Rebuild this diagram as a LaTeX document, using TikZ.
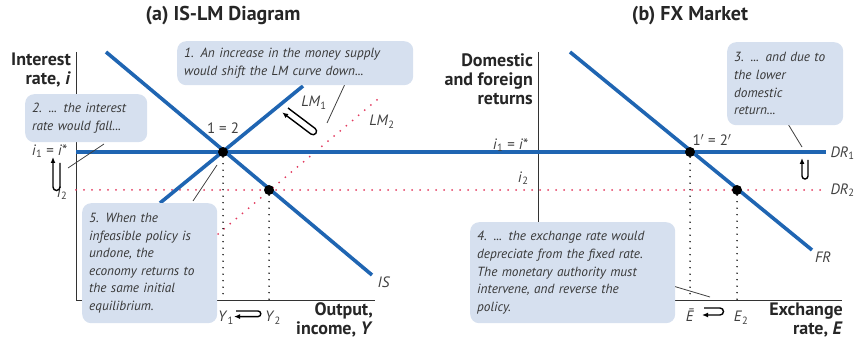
\documentclass[tikz,border=0pt]{standalone}
\usepackage{fontspec}
\setmainfont{PT Sans}
\usetikzlibrary{arrows.meta}
\definecolor{curveblue}{HTML}{1F65B2}
\definecolor{dotred}{HTML}{E23B5F}
\definecolor{notefill}{HTML}{D6E0EF}
\definecolor{notetext}{HTML}{383838}
\begin{document}
\begin{tikzpicture}[x=1pt,y=1pt,
    curve/.style={curveblue,line width=3.6pt},
    shifted/.style={dotred,line width=2pt,line cap=round,dash pattern=on 0pt off 8pt},
    guide/.style={black,line width=1.6pt,line cap=round,dash pattern=on 0pt off 6.5pt},
    axisline/.style={black!80,line width=0.9pt},
    eqpt/.style={circle,fill=black,inner sep=0pt,minimum size=10pt},
    note/.style={fill=notefill,rounded corners=9pt,inner xsep=7pt,inner ysep=4pt,align=left,
        text=notetext,font=\fontsize{13.3}{17.6}\selectfont\itshape,anchor=north west},
    pointer/.style={black!75,line width=0.8pt},
    hairpin/.style={black,line width=1.4pt,-{Latex[length=6pt,width=5pt]}},
    axlabel/.style={font=\fontsize{18}{19}\selectfont\bfseries,align=right,text=black!85,inner sep=1pt},
    tick/.style={font=\fontsize{15}{16}\selectfont,text=black!75},
    title/.style={font=\fontsize{20}{22}\selectfont\bfseries,text=black!85}]
  \useasboundingbox (0,0) rectangle (857,340);

  % titles
  \node[title] (ta) at (223,324) {(a) IS-LM Diagram};
  \node[title] (tb) at (690,324) {(b) FX Market};

  % draw the axes
  \coordinate (oa) at (76,40);
  \coordinate (ya) at (76,288);
  \coordinate (xa) at (375,40);
  \coordinate (ob) at (538,40);
  \coordinate (yb) at (538,288);
  \coordinate (xb) at (842,40);
  \draw[axisline] (ya) -- (oa) -- (xa);
  \draw[axisline] (yb) -- (ob) -- (xb);

  % curves
  \coordinate (i1a) at (76,188);
  \coordinate (i1b) at (826,188);
  \coordinate (i2a) at (76,150);
  \coordinate (i2b) at (826,150);
  \coordinate (lm2a) at (218,106);
  \coordinate (lm2b) at (378,241);
  \coordinate (isa) at (106,288);
  \coordinate (isb) at (372,65);
  \coordinate (lm1a) at (160,137);
  \coordinate (lm1b) at (303,254);
  \coordinate (fra) at (570,288);
  \coordinate (frb) at (812,90);
  \draw[shifted] (i2a) -- (i2b);
  \draw[shifted] (lm2a) -- (lm2b);
  \draw[curve] (i1a) -- (i1b);
  \draw[curve] (isa) -- (isb);
  \draw[curve] (lm1a) -- (lm1b);
  \draw[curve] (fra) -- (frb);

  % equilibria
  \node[eqpt] (e1) at (223,188) {};
  \node[eqpt] (e2) at (269,150) {};
  \node[eqpt] (f1) at (690,188) {};
  \node[eqpt] (f2) at (737,150) {};
  \draw[guide] (e1) -- (e1 |- oa);
  \draw[guide] (e2) -- (e2 |- oa);
  \draw[guide] (f1) -- (f1 |- ob);
  \draw[guide] (f2) -- (f2 |- ob);

  % axis labels
  \node[axlabel,anchor=east] (ylaba) at (72,270) {Interest\\rate, \textit{i}};
  \node[axlabel,anchor=east] (xlaba) at (374,20) {Output,\\income, \textit{Y}};
  \node[axlabel,anchor=east] (ylabb) at (534,261) {Domestic\\and foreign\\returns};
  \node[axlabel,anchor=east] (xlabb) at (844,20) {Exchange\\rate, \textit{E}};

  % tick labels
  \node[tick,anchor=east] (i1la) at (71,189) {\textit{i}\textsubscript{1} = \textit{i}*};
  \node[tick,anchor=east] (i2la) at (71,147) {\textit{i}\textsubscript{2}};
  \node[tick,anchor=east] (i1lb) at (532,195) {\textit{i}\textsubscript{1} = \textit{i}*};
  \node[tick,anchor=east] (i2lb) at (532,162) {\textit{i}\textsubscript{2}};
  \node[tick] (y1) at (226,22) {\textit{Y}\textsubscript{1}};
  \node[tick] (y2) at (273,22) {\textit{Y}\textsubscript{2}};
  \node[tick] (eb) at (690,25) {\textit{\=E}};
  \node[tick] (e2l) at (741,22) {\textit{E}\textsubscript{2}};

  % curve labels
  \node[tick] (lm1l) at (314,237) {\textit{LM}\textsubscript{1}};
  \node[tick] (lm2l) at (382,218) {\textit{LM}\textsubscript{2}};
  \node[tick] (isl) at (384,58) {\textit{IS}};
  \node[tick] (frl) at (823,83) {\textit{FR}};
  \node[tick,anchor=west] (dr1l) at (827,187) {\textit{DR}\textsubscript{1}};
  \node[tick,anchor=west] (dr2l) at (827,150) {\textit{DR}\textsubscript{2}};
  \node[tick] (p12) at (223,212) {1 = 2};
  \node[tick] (p12b) at (712,200) {1$'$ = 2$'$};

  % shifts and reversals
  \draw[hairpin] (60,177) -- (60,153) arc (0:-180:3.5) -- (53,183);
  \draw[hairpin] (808,180) -- (808,164) arc (0:-180:3) -- (802,182);
  \draw[hairpin] (288,232) -- ++(-37:34) arc (53:-127:3.5) -- ++(143:36);
  \draw[hairpin] (236,29) -- (258,29) arc (90:-90:2.8) -- (234,23.4);
  \draw[hairpin] (704,32) -- (720,32) arc (90:-90:3.5) -- (702,25);

  % pointers
  \coordinate (n1a) at (345,256);
  \coordinate (n1b) at (327,217);
  \coordinate (n2a) at (104,196);
  \coordinate (n2b) at (68,172);
  \coordinate (n3a) at (788,216);
  \coordinate (n3b) at (802,193);
  \coordinate (n4a) at (673,54);
  \coordinate (n4b) at (710,43);
  \coordinate (n5a) at (193,139);
  \coordinate (n5b) at (217,175);
  \draw[pointer] (n1a) -- (n1b);
  \draw[pointer] (n2a) -- (n2b);
  \draw[pointer] (n3a) -- (n3b);
  \draw[pointer] (n4a) -- (n4b);
  \draw[pointer] (n5a) -- (n5b);

  % callouts
  \node[note,text width=222pt,minimum height=44pt] (c1) at (177,299)
    {1. An increase in the money supply\\would shift the LM curve down...};
  \node[note,text width=108pt,minimum height=48pt] (c2) at (25,246)
    {2. ... the interest\\rate would fall...};
  \node[note,text width=102pt,minimum height=83pt] (c3) at (727,298)
    {3. ... and due to\\the lower\\domestic\\return...};
  \node[note,text width=191pt,minimum height=101pt] (c4) at (470,118)
    {4. ... the exchange rate would\\depreciate from the fixed rate.\\The monetary authority must\\intervene, and reverse the\\policy.};
  \node[note,text width=121pt,minimum height=120pt] (c5) at (82,137)
    {5. When the\\infeasible policy is\\undone, the\\economy returns to\\the same initial\\equilibrium.};
\end{tikzpicture}
\end{document}
